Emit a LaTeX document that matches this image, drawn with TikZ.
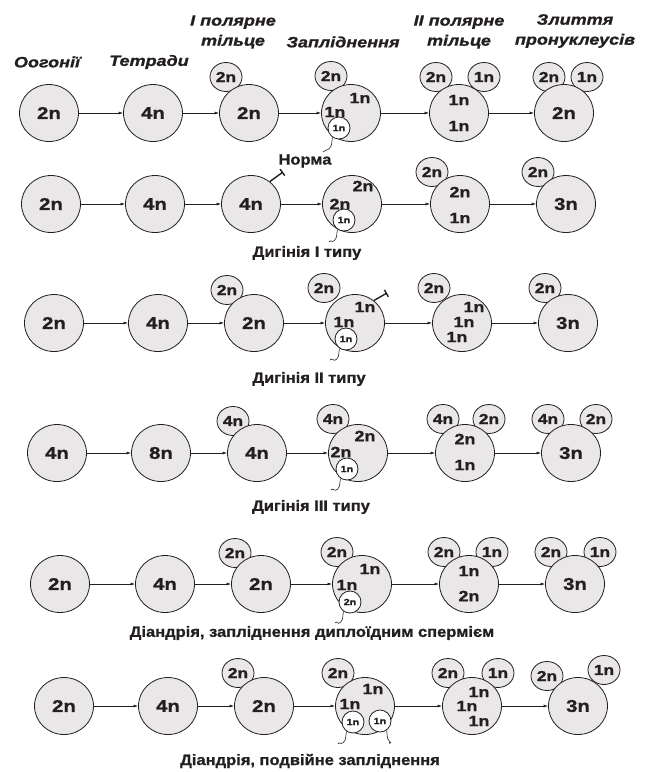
\documentclass[tikz,border=0pt]{standalone}
\usepackage{fontspec}
\setmainfont{Liberation Sans}
\newfontfamily\zzwide[FakeStretch=1.2,BoldFeatures={FakeBold=1.0},BoldItalicFeatures={FakeBold=1.0}]{Liberation Sans}
\newfontfamily\zzlab[FakeStretch=1.1,BoldFeatures={FakeBold=1.0}]{Liberation Sans}
\usetikzlibrary{shapes.geometric,arrows.meta}
\definecolor{ink}{HTML}{231F20}
\definecolor{cellfill}{HTML}{EAE7E9}
\begin{document}
\begin{tikzpicture}[x=1pt,y=-1pt,
  big/.style={ellipse,draw=ink,fill=cellfill,line width=0.8pt,minimum width=59pt,minimum height=57pt,inner sep=0pt,text=ink,font=\zzwide\bfseries\fontsize{17}{17}\selectfont},
  pol/.style={ellipse,draw=ink,fill=cellfill,line width=0.8pt,minimum width=32pt,minimum height=29pt,inner sep=0pt,text=ink,font=\zzwide\bfseries\fontsize{14.5}{14.5}\selectfont},
  sp/.style={circle,draw=ink,fill=white,line width=0.8pt,minimum size=22pt,inner sep=0pt,text=ink,font=\zzwide\bfseries\fontsize{9}{9}\selectfont},
  mid/.style={inner sep=0pt,text=ink,font=\zzwide\bfseries\fontsize{15}{15}\selectfont},
  head/.style={inner sep=0pt,align=center,text=ink,font=\zzwide\bfseries\itshape\fontsize{15}{20}\selectfont},
  lab/.style={inner sep=0pt,text=ink,font=\zzlab\bfseries\fontsize{15}{15}\selectfont},
  arr/.style={draw=ink,line width=0.6pt,-{Latex[length=4.5pt,width=3pt]}},
  tailline/.style={draw=ink,line width=0.6pt},
  tmark/.style={draw=ink,line width=1.4pt,-{Bar[width=8pt,line width=1.4pt]}}
]
\useasboundingbox (0,0) rectangle (646,772);

% headers
\node[head] (h1) at (47,62) {Оогонії};
\node[head] (h2) at (149,62) {Тетради};
\node[head] (h3) at (233,32) {І полярне\\тільце};
\node[head] (h4) at (343,42) {Запліднення};
\node[head] (h5) at (459,32) {ІІ полярне\\тільце};
\node[head] (h6) at (575,31) {Злиття\\пронуклеусів};

% ---------- Row 1 ----------
\node[pol] (p13) at (226,77) {2n};
\node[pol] (p14) at (331,76) {2n};
\node[pol] (p15a) at (436,77) {2n};
\node[pol] (p15b) at (484,77) {1n};
\node[pol] (p16a) at (549,77) {2n};
\node[pol] (p16b) at (587,77) {1n};
\node[big] (c11) at (49,113) {2n};
\node[big] (c12) at (153,113) {4n};
\node[big] (c13) at (249,113) {2n};
\node[big] (c14) at (351,113) {};
\node[big] (c15) at (459,113) {};
\node[big] (c16) at (564,113) {2n};
\node[mid] (t14a) at (360,98) {1n};
\node[mid] (t14b) at (335,112) {1n};
\node[sp] (s14) at (339,128) {1n};
\coordinate (e14) at (323,152);
\draw[tailline] (s14.235) .. controls +(-1,5) and +(3,-3) .. +(-3,11) .. controls +(-3,3) and +(2,-3) .. (e14);
\node[mid] (t15a) at (459,100) {1n};
\node[mid] (t15b) at (459,126) {1n};
\draw[arr] (c11) -- (c12);
\draw[arr] (c12) -- (c13);
\draw[arr] (c13) -- (c14);
\draw[arr] (c14) -- (c15);
\draw[arr] (c15) -- (c16);
\node[lab] (l1) at (305,161) {Норма};

% ---------- Row 2 ----------
\node[pol] (p25) at (432,172) {2n};
\node[pol] (p26) at (538,172) {2n};
\node[big] (c21) at (51,204) {2n};
\node[big] (c22) at (155,204) {4n};
\node[big] (c23) at (251,204) {4n};
\node[big] (c24) at (352,204) {};
\node[big] (c25) at (460,204) {};
\node[big] (c26) at (566,204) {3n};
\coordinate (m2) at (283,172);
\draw[tmark] (c23.50) -- (m2);
\node[mid] (t24a) at (363,186) {2n};
\node[mid] (t24b) at (340,204) {2n};
\node[sp] (s24) at (344,220) {1n};
\coordinate (e24) at (329,242);
\draw[tailline] (s24.235) .. controls +(-1,5) and +(3,-3) .. +(-3,11) .. controls +(-3,3) and +(2,-3) .. (e24);
\node[mid] (t25a) at (460,192) {2n};
\node[mid] (t25b) at (460,218) {1n};
\draw[arr] (c21) -- (c22);
\draw[arr] (c22) -- (c23);
\draw[arr] (c23) -- (c24);
\draw[arr] (c24) -- (c25);
\draw[arr] (c25) -- (c26);
\node[lab] (l2) at (307,253) {Дигінія І типу};

% ---------- Row 3 ----------
\node[pol] (p33) at (227,290) {2n};
\node[pol] (p34) at (324,288) {2n};
\node[pol] (p35) at (434,288) {2n};
\node[pol] (p36) at (545,288) {2n};
\node[big] (c31) at (54,323) {2n};
\node[big] (c32) at (158,323) {4n};
\node[big] (c33) at (254,323) {2n};
\node[big] (c34) at (355,323) {};
\node[big] (c35) at (462,323) {};
\node[big] (c36) at (568,323) {3n};
\coordinate (m3) at (387,293);
\draw[tmark] (c34.50) -- (m3);
\node[mid] (t34a) at (365,307) {1n};
\node[mid] (t34b) at (344,322) {1n};
\node[sp] (s34) at (346,339) {1n};
\coordinate (e34) at (330,360);
\draw[tailline] (s34.235) .. controls +(-1,5) and +(3,-3) .. +(-3,11) .. controls +(-3,3) and +(2,-3) .. (e34);
\node[mid] (t35a) at (474,307) {1n};
\node[mid] (t35b) at (464,322) {1n};
\node[mid] (t35c) at (457,337) {1n};
\draw[arr] (c31) -- (c32);
\draw[arr] (c32) -- (c33);
\draw[arr] (c33) -- (c34);
\draw[arr] (c34) -- (c35);
\draw[arr] (c35) -- (c36);
\node[lab] (l3) at (309,379) {Дигінія ІІ типу};

% ---------- Row 4 ----------
\node[pol] (p43) at (233,421) {4n};
\node[pol] (p44) at (333,419) {4n};
\node[pol] (p45a) at (443,419) {4n};
\node[pol] (p45b) at (489,419) {2n};
\node[pol] (p46a) at (548,419) {4n};
\node[pol] (p46b) at (596,419) {2n};
\node[big] (c41) at (57,453) {4n};
\node[big] (c42) at (161,453) {8n};
\node[big] (c43) at (257,453) {4n};
\node[big] (c44) at (358,453) {};
\node[big] (c45) at (465,453) {};
\node[big] (c46) at (571,453) {3n};
\node[mid] (t44a) at (365,436) {2n};
\node[mid] (t44b) at (341,452) {2n};
\node[sp] (s44) at (347,469) {1n};
\coordinate (e44) at (331,490);
\draw[tailline] (s44.235) .. controls +(-1,5) and +(3,-3) .. +(-3,11) .. controls +(-3,3) and +(2,-3) .. (e44);
\node[mid] (t45a) at (465,439) {2n};
\node[mid] (t45b) at (465,465) {1n};
\draw[arr] (c41) -- (c42);
\draw[arr] (c42) -- (c43);
\draw[arr] (c43) -- (c44);
\draw[arr] (c44) -- (c45);
\draw[arr] (c45) -- (c46);
\node[lab] (l4) at (311,507) {Дигінія ІІІ типу};

% ---------- Row 5 ----------
\node[pol] (p53) at (235,553) {2n};
\node[pol] (p54) at (337,552) {2n};
\node[pol] (p55a) at (444,552) {2n};
\node[pol] (p55b) at (492,552) {1n};
\node[pol] (p56a) at (551,552) {2n};
\node[pol] (p56b) at (600,552) {1n};
\node[big] (c51) at (60,584) {2n};
\node[big] (c52) at (165,584) {4n};
\node[big] (c53) at (261,584) {2n};
\node[big] (c54) at (362,584) {};
\node[big] (c55) at (469,584) {};
\node[big] (c56) at (575,584) {3n};
\node[mid] (t54a) at (370,569) {1n};
\node[mid] (t54b) at (347,585) {1n};
\node[sp] (s54) at (350,602) {2n};
\coordinate (e54) at (335,623);
\draw[tailline] (s54.235) .. controls +(-1,5) and +(3,-3) .. +(-3,11) .. controls +(-3,3) and +(2,-3) .. (e54);
\node[mid] (t55a) at (469,571) {1n};
\node[mid] (t55b) at (469,596) {2n};
\draw[arr] (c51) -- (c52);
\draw[arr] (c52) -- (c53);
\draw[arr] (c53) -- (c54);
\draw[arr] (c54) -- (c55);
\draw[arr] (c55) -- (c56);
\node[lab] (l5) at (312,633) {Діандрія, запліднення диплоїдним спермієм};

% ---------- Row 6 ----------
\node[pol] (p63) at (238,673) {2n};
\node[pol] (p64) at (338,673) {2n};
\node[pol] (p65a) at (448,673) {2n};
\node[pol] (p65b) at (498,673) {1n};
\node[pol] (p66a) at (547,676) {2n};
\node[pol] (p66b) at (604,670) {1n};
\node[big] (c61) at (64,706) {2n};
\node[big] (c62) at (168,706) {4n};
\node[big] (c63) at (264,706) {2n};
\node[big] (c64) at (365,706) {};
\node[big] (c65) at (472,706) {};
\node[big] (c66) at (578,706) {3n};
\node[mid] (t64a) at (373,689) {1n};
\node[mid] (t64b) at (350,704) {1n};
\node[sp] (s64a) at (353,722) {1n};
\node[sp] (s64b) at (380,721) {1n};
\coordinate (e64a) at (338,744);
\coordinate (e64b) at (390,744);
\draw[tailline] (s64a.235) .. controls +(-1,5) and +(3,-3) .. +(-3,11) .. controls +(-3,3) and +(2,-3) .. (e64a);
\draw[tailline] (s64b.305) .. controls +(1,5) and +(-3,-3) .. +(3,11) .. controls +(3,3) and +(-2,-3) .. (e64b);
\node[mid] (t65a) at (479,692) {1n};
\node[mid] (t65b) at (467,706) {1n};
\node[mid] (t65c) at (479,721) {1n};
\draw[arr] (c61) -- (c62);
\draw[arr] (c62) -- (c63);
\draw[arr] (c63) -- (c64);
\draw[arr] (c64) -- (c65);
\draw[arr] (c65) -- (c66);
\node[lab] (l6) at (310,761) {Діандрія, подвійне запліднення};
\end{tikzpicture}
\end{document}
